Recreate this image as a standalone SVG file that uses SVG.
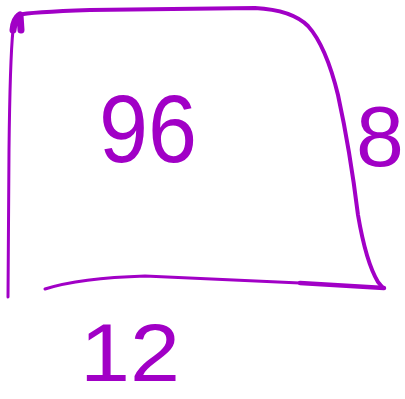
<svg xmlns="http://www.w3.org/2000/svg" width="405" height="399" viewBox="0 0 405 399">
<style>
.ink{fill:none;stroke:#A100C6;stroke-linecap:round;stroke-linejoin:round}
.num{fill:#A100C6;font-family:"Liberation Sans",Arial,sans-serif;text-anchor:middle}
</style>
<rect width="405" height="399" fill="#fff"/>
<path class="ink" stroke-width="3" d="M8,297 L9,150 Q10,60 13,30"/>
<path class="ink" stroke-width="7" d="M13,30 Q14,19 20,15 L21,30"/>
<path class="ink" stroke-width="4" d="M18,15 Q30,12 90,10 L255,8 Q292,10 308,26 Q326,46 338,95 Q350,150 358,215 Q366,262 378,282 L383,288"/>
<path class="ink" stroke-width="3" d="M45,289 Q80,278 145,276 L300,283"/>
<path class="ink" stroke-width="4.5" d="M300,283 L384,288"/>
<text class="num" x="148" y="162" font-size="96" textLength="98" lengthAdjust="spacingAndGlyphs">96</text>
<text class="num" x="380" y="166" font-size="86">8</text>
<text class="num" x="130" y="381" font-size="82" textLength="100" lengthAdjust="spacingAndGlyphs">12</text>
</svg>
